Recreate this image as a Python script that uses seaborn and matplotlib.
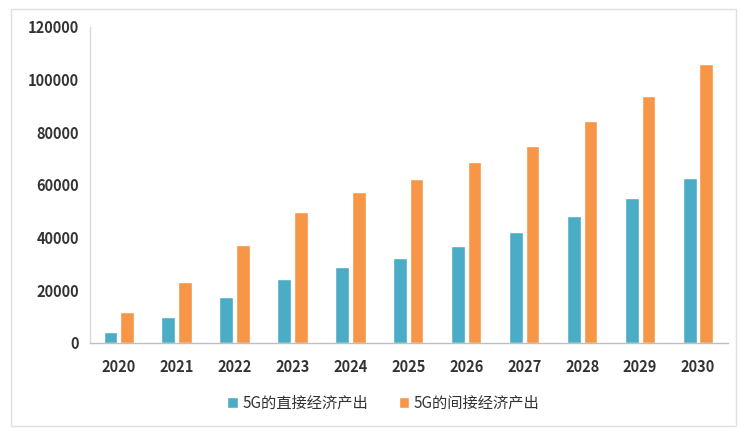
import matplotlib
matplotlib.use("Agg")
import matplotlib.pyplot as plt
import seaborn as sns
import pandas as pd
from matplotlib.patches import Rectangle

years = ["2020", "2021", "2022", "2023", "2024", "2025", "2026", "2027", "2028", "2029", "2030"]
direct = [4200, 10000, 17500, 24300, 28800, 32300, 36800, 42100, 48200, 55000, 62600]
indirect = [11800, 23200, 37200, 49700, 57300, 62200, 68700, 74800, 84200, 93700, 105900]
series_names = ["5G的直接经济产出", "5G的间接经济产出"]
yticks = [0, 20000, 40000, 60000, 80000, 100000, 120000]

df = pd.DataFrame({
    "year": years * 2,
    "value": direct + indirect,
    "series": [series_names[0]] * len(years) + [series_names[1]] * len(years),
})

sns.set_theme(style="white")
plt.rcParams['font.family'] = ['Noto Sans CJK SC', 'DejaVu Sans']

fig = plt.figure(figsize=(7.4, 4.28), dpi=100)
ax = fig.add_axes([0.122, 0.199, 0.862, 0.738])

palette = {series_names[0]: "#4BACC6", series_names[1]: "#F79646"}
sns.barplot(data=df, x="year", y="value", hue="series", palette=palette,
            width=0.57, gap=0.17, ax=ax, saturation=1, legend=True)

ax.set_ylim(0, 120000)
ax.set_yticks(yticks)
ax.set_yticklabels([str(v) for v in yticks])
ax.set_xlim(-0.49, len(years) - 0.48)
ax.set_xlabel("")
ax.set_ylabel("")
for s in ["top", "right"]:
    ax.spines[s].set_visible(False)
ax.spines["left"].set_color("#d9d9d9")
ax.spines["bottom"].set_color("#bfbfbf")
ax.spines["left"].set_linewidth(1)
ax.spines["bottom"].set_linewidth(1)
ax.tick_params(axis="x", length=0, labelsize=10.5, colors="#333333", pad=12)
ax.tick_params(axis="y", length=0, labelsize=10.5, colors="#333333", pad=8)
for lab in ax.get_xticklabels() + ax.get_yticklabels():
    lab.set_fontweight("bold")

handles, labels = ax.get_legend_handles_labels()
ax.get_legend().remove()
fig.legend(handles, labels, loc="center", bbox_to_anchor=(0.518, 0.058), ncol=2,
           frameon=False, fontsize=11, handlelength=0.7, handleheight=0.7,
           handletextpad=0.3, columnspacing=2.0, labelcolor="#333333")

fig.patches.append(Rectangle((0.015, 0.005), 0.98, 0.975, transform=fig.transFigure,
                             fill=False, edgecolor="#e0e0e0", linewidth=1))

fig.savefig("out.png", dpi=100, facecolor="white")
